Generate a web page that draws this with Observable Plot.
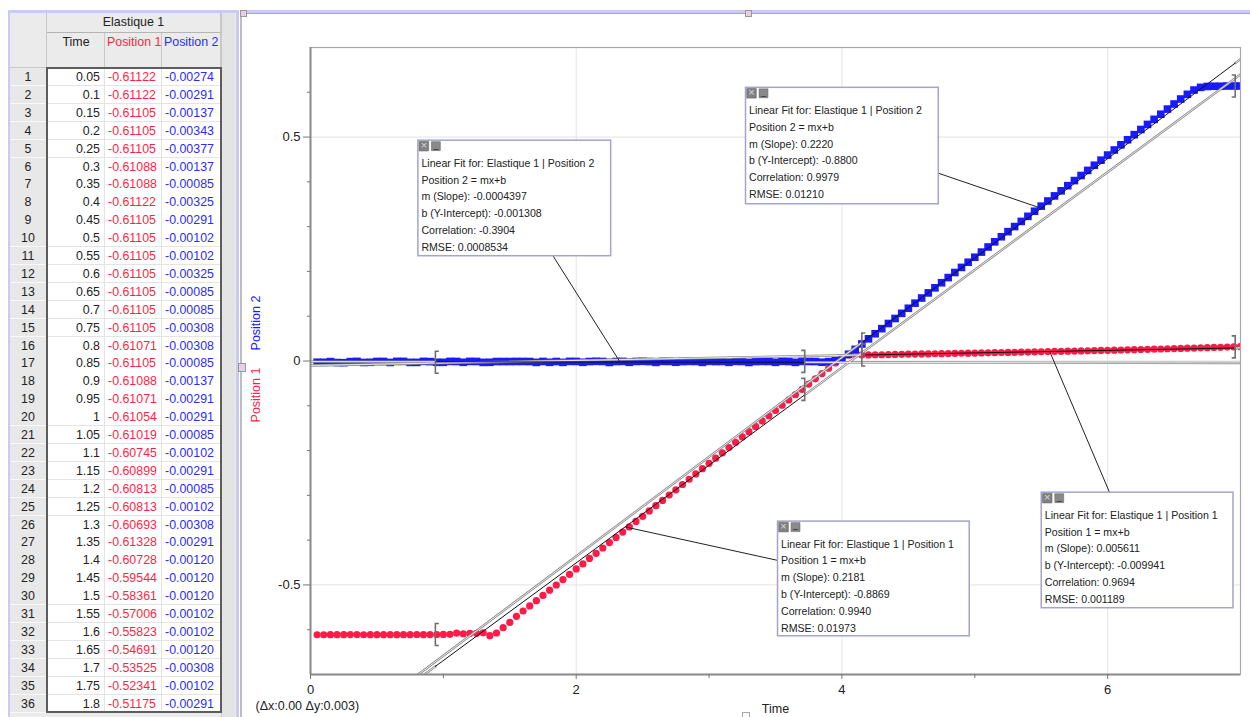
<!DOCTYPE html>
<html><head><meta charset="utf-8">
<script src="https://cdn.jsdelivr.net/npm/d3@7"></script>
<script src="https://cdn.jsdelivr.net/npm/@observablehq/plot@0.6"></script>
<style>
html,body{margin:0;padding:0;background:#fff;}
#page{position:relative;width:1250px;height:717px;overflow:hidden;background:#fff;font-family:"Liberation Sans",Arial,Helvetica,sans-serif;}
#page div{position:absolute;box-sizing:border-box;overflow:hidden;white-space:nowrap;}
#page svg{position:absolute;}
</style></head><body><div id="page"></div>
<script>
// ---------- data ----------
const datasetName = "Elastique 1";
const columnNames = ["Time", "Position 1", "Position 2"];
const time = [
0.05,0.1,0.15,0.2,0.25,0.3,0.35,0.4,0.45,0.5,
0.55,0.6,0.65,0.7,0.75,0.8,0.85,0.9,0.95,1,
1.05,1.1,1.15,1.2,1.25,1.3,1.35,1.4,1.45,1.5,
1.55,1.6,1.65,1.7,1.75,1.8,1.85,1.9,1.95,2,
2.05,2.1,2.15,2.2,2.25,2.3,2.35,2.4,2.45,2.5,
2.55,2.6,2.65,2.7,2.75,2.8,2.85,2.9,2.95,3,
3.05,3.1,3.15,3.2,3.25,3.3,3.35,3.4,3.45,3.5,
3.55,3.6,3.65,3.7,3.75,3.8,3.85,3.9,3.95,4,
4.05,4.1,4.15,4.2,4.25,4.3,4.35,4.4,4.45,4.5,
4.55,4.6,4.65,4.7,4.75,4.8,4.85,4.9,4.95,5,
5.05,5.1,5.15,5.2,5.25,5.3,5.35,5.4,5.45,5.5,
5.55,5.6,5.65,5.7,5.75,5.8,5.85,5.9,5.95,6,
6.05,6.1,6.15,6.2,6.25,6.3,6.35,6.4,6.45,6.5,
6.55,6.6,6.65,6.7,6.75,6.8,6.85,6.9,6.95,7];
const position1 = [
-0.61122,-0.61122,-0.61105,-0.61105,-0.61105,-0.610884,-0.610884,-0.61122,-0.61105,-0.61105,
-0.61105,-0.61105,-0.61105,-0.61105,-0.61105,-0.61071,-0.61105,-0.610884,-0.61071,-0.610541,
-0.61019,-0.607455,-0.608993,-0.608138,-0.608138,-0.606938,-0.613281,-0.607283,-0.595441,-0.583613,
-0.570063,-0.558232,-0.546915,-0.535255,-0.523413,-0.51175,-0.50012,-0.48811,-0.47663,-0.46432,
-0.45301,-0.44089,-0.42937,-0.41755,-0.40546,-0.39401,-0.38193,-0.37039,-0.35822,-0.34677,
-0.33469,-0.32294,-0.31128,-0.29929,-0.28772,-0.27574,-0.26408,-0.25216,-0.24045,-0.22856,
-0.21689,-0.20499,-0.19323,-0.18138,-0.16961,-0.15779,-0.14603,-0.13419,-0.12243,-0.11059,
-0.09882,-0.08699,-0.07523,-0.06341,-0.05163,-0.03981,-0.02803,-0.01622,-0.00446,0.00602,
0.01297,0.01503,0.01350,0.01367,0.01401,0.01401,0.01435,0.01469,0.01486,0.01520,
0.01537,0.01571,0.01588,0.01623,0.01640,0.01674,0.01691,0.01725,0.01742,0.01777,
0.01811,0.01828,0.01862,0.01896,0.01913,0.01948,0.01982,0.01999,0.02033,0.02067,
0.02101,0.02136,0.02153,0.02187,0.02221,0.02255,0.02289,0.02324,0.02358,0.02392,
0.02426,0.02460,0.02495,0.02529,0.02563,0.02597,0.02648,0.02683,0.02734,0.02768,
0.02802,0.02854,0.02888,0.02939,0.02973,0.03025,0.03059,0.03110,0.03144,0.03196];
const position2 = [
-0.002741,-0.002912,-0.001371,-0.003432,-0.003774,-0.001371,-0.000856,-0.003254,-0.002912,-0.001027,
-0.001027,-0.003254,-0.000856,-0.000856,-0.003083,-0.003083,-0.000856,-0.001371,-0.002912,-0.002912,
-0.000856,-0.001027,-0.002912,-0.000856,-0.001027,-0.003083,-0.002912,-0.0012,-0.0012,-0.0012,
-0.001027,-0.001027,-0.0012,-0.003083,-0.001027,-0.002912,-0.0012,-0.003083,-0.000856,-0.001027,
-0.002912,-0.0012,-0.000685,-0.001027,-0.003254,-0.0012,-0.000856,-0.002912,-0.001027,-0.000685,
-0.0012,-0.003083,-0.000856,-0.001027,-0.002741,-0.0012,-0.000856,-0.001027,-0.003083,-0.000685,
-0.0012,-0.001027,-0.002912,-0.000856,-0.001027,-0.003254,-0.0012,-0.000856,-0.001027,-0.002912,
-0.000685,-0.0012,-0.003083,-0.000856,-0.001027,-0.0012,-0.002741,-0.001371,0.000514,0.006,
0.015,0.026,0.038,0.0495,0.06085,0.07221,0.08373,0.09492,0.10644,0.11779,
0.12915,0.14067,0.15203,0.16338,0.17474,0.18626,0.19761,0.20897,0.22049,0.23168,
0.2432,0.25456,0.26608,0.27744,0.28879,0.30015,0.31167,0.32302,0.33438,0.34574,
0.35726,0.36861,0.37997,0.39149,0.40285,0.4142,0.42556,0.43708,0.44843,0.45979,
0.47115,0.48267,0.49402,0.50538,0.5169,0.52826,0.53961,0.55097,0.56249,0.57384,
0.58497,0.59546,0.60502,0.611,0.613,0.6135,0.6135,0.614,0.614,0.614];
const tableRows = 36;

// linear fits (as reported in the reference)
const fitSeries = ["Position 2", "Position 2", "Position 1", "Position 1"];
const fitSlope = [-0.0004397, 0.2220, 0.2181, 0.005611];
const fitIntercept = [-0.001308, -0.8800, -0.8869, -0.009941];
const fitSlopeText = ["-0.0004397", "0.2220", "0.2181", "0.005611"];
const fitInterceptText = ["-0.001308", "-0.8800", "-0.8869", "-0.009941"];
const fitCorrelation = ["-0.3904", "0.9979", "0.9940", "0.9694"];
const fitRMSE = ["0.0008534", "0.01210", "0.01973", "0.001189"];
const fitStart = [0.94, 4.15, 0.94, 4.15];
const fitEnd = [3.72, 6.96, 3.72, 6.96];

// axis ticks
const xTickLabels = [0, 2, 4, 6];
const xMinorTicks = [1, 3, 5];
const yTickLabels = [-0.5, 0, 0.5];
const yMinorTicks = [-0.6, -0.4, -0.3, -0.2, -0.1, 0.1, 0.2, 0.3, 0.4, 0.6];

// annotation placement (data units of the graph)
const layout = {
  boxLeft: [0.812, 3.278, 3.519, 5.504],
  boxRight: [2.263, 4.729, 4.962, 6.947],
  boxTop: [0.492, 0.610, -0.3586, -0.294],
  boxBottom: [0.234, 0.350, -0.6147, -0.552],
  leaderFromX: [1.827, 4.729, 3.519, 6.015],
  leaderFromY: [0.234, 0.419, -0.4454, -0.294],
  leaderToX: [2.33, 5.50, 2.368, 5.564]
};

const RED = "#ff1a47", BLUE = "#1a1aff";
const page = document.getElementById("page");
function div(l, t, w, h, css, text) {
  const d = document.createElement("div");
  d.style.cssText = `left:${l}px;top:${t}px;width:${w}px;height:${h}px;${css || ""}`;
  if (text != null) d.textContent = text;
  page.appendChild(d);
  return d;
}

// ---------- data table ----------
const FS = "font-size:12.4px;";
const cellText = (v, j) => (j === 0 ? String(v) : v.toFixed(6).slice(0, 8));
div(8, 10, 231, 710, "border-left:2px solid #cacaf2;border-top:3px solid #cacaf2;border-right:3px solid #cacaf2;background:#ebebeb");
div(10, 13, 37, 55, "background:#ebebeb;border-right:1px solid #c8c8c8;border-bottom:1px solid #c8c8c8");
div(47, 13, 174, 20, FS + "color:#222;background:#ebebeb;border-right:1px solid #c8c8c8;border-bottom:1px solid #b4b4b4;text-align:center;line-height:19px", datasetName);
const colX = [47, 105, 162], colW = [58, 57, 59];
const textX = [47, 108, 165], textW = [53, 53, 54];
const colColor = ["#222", "#ff1f45", "#2b2bff"];
columnNames.forEach((c, j) => {
  div(colX[j], 33, colW[j], 35, "background:#ebebeb;border-right:1px solid #c8c8c8;border-bottom:1px solid #c8c8c8");
  div(j === 0 ? colX[j] : colX[j] + 2, 33, j === 0 ? colW[j] : colW[j] - 1, 20, FS + `color:${colColor[j]};line-height:18px;` + (j === 0 ? "text-align:center" : ""), c);
});
div(221, 13, 14, 704, "background:#e4e4e4;border-left:1px solid #c8c8c8");
const RH = 17.9;
for (let i = 0; i < tableRows; i++) {
  const y = 68 + i * RH;
  div(10, y, 37, RH + 0.5, FS + "color:#222;background:#e8e8e8;border-bottom:1px solid #f8f8f8;border-right:1px solid #cfcfcf;text-align:center;line-height:18px", String(i + 1));
  const vals = [time[i], position1[i], position2[i]];
  vals.forEach((v, j) => {
    div(colX[j], y, colW[j], RH + 0.5, "background:#fff;border-right:1px solid #e4e4e4;border-bottom:1px solid #e4e4e4");
    div(textX[j], y, textW[j], RH, FS + `color:${colColor[j]};line-height:18px;` + (j === 0 ? "text-align:right" : ""), cellText(v, j));
  });
}
div(46, 67, 176, 646, "border:2px solid #5c5c5c;background:transparent");

// ---------- graph pane chrome ----------
div(240, 10, 1010, 3, "background:#cacaf2");
div(240, 13, 1010, 1, "background:#a8a8a8");
div(240, 13, 2, 704, "background:#bdbdbd");

// ---------- chart ----------
const pts = time.map((t, i) => ({t, p1: position1[i], p2: position2[i]}));
const fits = fitSeries.map((s, i) => ({
  series: s, m: fitSlope[i], b: fitIntercept[i], from: fitStart[i], to: fitEnd[i],
  text: [`Linear Fit for: ${datasetName} | ${s}`, `${s} = mx+b`, `m (Slope): ${fitSlopeText[i]}`,
         `b (Y-Intercept): ${fitInterceptText[i]}`, `Correlation: ${fitCorrelation[i]}`, `RMSE: ${fitRMSE[i]}`].join("\n"),
  bx1: layout.boxLeft[i], bx2: layout.boxRight[i], byt: layout.boxTop[i], byb: layout.boxBottom[i],
  lx1: layout.leaderFromX[i], ly1: layout.leaderFromY[i], lx2: layout.leaderToX[i],
  ly2: fitSlope[i] * layout.leaderToX[i] + fitIntercept[i]
}));
const key = s => (s === "Position 1" ? "p1" : "p2");
const nearest = (x, s) => pts[d3.minIndex(pts, d => Math.abs(d.t - x))][key(s)];
// parts of each fit line outside its fitted range (drawn grey) and inside it (drawn black)
const outerLines = fits.flatMap((f, i) => [
  ...[0, f.from].map(x => ({id: i * 2, x, y: f.m * x + f.b})),
  ...[f.to, 7].map(x => ({id: i * 2 + 1, x, y: f.m * x + f.b}))
]);
const segLines = fits.flatMap((f, i) => [f.from, f.to].map(x => ({id: i, x, y: f.m * x + f.b})));
const openBr = fits.map(f => ({x: f.from, y: nearest(f.from, f.series)}));
const closeBr = fits.map(f => ({x: f.to, y: nearest(f.to, f.series)}));
// range bracket symbols
const bracket = dir => ({draw(ctx) {
  ctx.moveTo(3.5 * dir, -11); ctx.lineTo(0, -11); ctx.lineTo(0, 11); ctx.lineTo(3.5 * dir, 11);
}});

const chart = Plot.plot({
  width: 1008, height: 703,
  marginLeft: 68, marginRight: 10, marginTop: 33, marginBottom: 43,
  x: {domain: [0, 7]},
  y: {domain: [-0.7, 0.7]},
  style: {fontFamily: "Liberation Sans, Arial, sans-serif", fontSize: "13px", color: "#222", background: "transparent", overflow: "visible"},
  marks: [
    Plot.gridX(xTickLabels.slice(1), {stroke: "#e3e3e3", strokeOpacity: 1}),
    Plot.gridY(yTickLabels, {stroke: "#e3e3e3", strokeOpacity: 1}),
    Plot.dot(pts, {x: "t", y: "p1", r: 3.6, fill: RED, clip: true}),
    Plot.dot(pts, {x: "t", y: "p2", symbol: "square", r: 4.3, fill: BLUE, clip: true}),
    Plot.line(outerLines, {x: "x", y: "y", z: "id", stroke: "#8a8a8a", strokeWidth: 2.4, clip: true}),
    Plot.line(outerLines, {x: "x", y: "y", z: "id", stroke: "#ffffff", strokeWidth: 0.8, clip: true}),
    Plot.line(segLines, {x: "x", y: "y", z: "id", stroke: "#111", strokeWidth: 1, clip: true}),
    Plot.dot(openBr, {x: "x", y: "y", symbol: bracket(1), r: 11, fill: "none", stroke: "#707070", strokeWidth: 1.6}),
    Plot.dot(closeBr, {x: "x", y: "y", symbol: bracket(-1), r: 11, fill: "none", stroke: "#707070", strokeWidth: 1.6}),
    Plot.link(fits, {x1: "lx1", y1: "ly1", x2: "lx2", y2: "ly2", stroke: "#222", strokeWidth: 1}),
    Plot.rect(fits, {x1: "bx1", x2: "bx2", y1: "byb", y2: "byt", fill: "#fff", stroke: "#a4a4cc", strokeWidth: 1.5}),
    Plot.dot(fits, {x: "bx1", y: "byt", symbol: "square", r: 5.4, fill: "#808080", stroke: "#666", strokeWidth: 0.6, dx: 5.5, dy: 5.5}),
    Plot.dot(fits, {x: "bx1", y: "byt", symbol: "square", r: 5.0, fill: "#8a8a8a", stroke: "#666", strokeWidth: 0.6, dx: 17.5, dy: 5.5}),
    Plot.text(fits, {x: "bx1", y: "byt", text: () => "×", dx: 5.5, dy: 5, fontSize: 11, fill: "#d8d8d8"}),
    Plot.text(fits, {x: "bx1", y: "byt", text: () => "_", dx: 17.5, dy: 4, fontSize: 9, fill: "#222"}),
    Plot.text(fits, {x: "bx1", y: "byt", text: "text", textAnchor: "start", lineAnchor: "top", dx: 3, dy: 14, fontSize: 10.6, lineHeight: 1.594, fill: "#222"}),
    Plot.frame({stroke: "#a8a8a8", strokeWidth: 1.2}),
    Plot.ruleX([0], {stroke: "#8c8c8c", strokeWidth: 2}),
    Plot.ruleY([-0.7], {stroke: "#8c8c8c", strokeWidth: 2}),
    Plot.axisX(xTickLabels, {tickSize: 5, tickPadding: 5, label: null, tickFormat: d => String(d), stroke: "#777", fill: "#222", fontSize: 13}),
    Plot.axisX(xMinorTicks, {tickSize: 4, tickFormat: () => "", label: null, stroke: "#777"}),
    Plot.axisY(yTickLabels, {tickSize: 7, tickPadding: 3, label: null, tickFormat: d => String(d), stroke: "#777", fill: "#222", fontSize: 13}),
    Plot.axisY(yMinorTicks, {tickSize: 3, tickFormat: () => "", label: null, stroke: "#777"}),
    Plot.text([columnNames[0]], {frameAnchor: "bottom", textAnchor: "middle", lineAnchor: "middle", dy: 34, fontSize: 12.5, fill: "#222"}),
    Plot.text(["(Δx:0.00 Δy:0.003)"], {frameAnchor: "bottom-left", textAnchor: "start", lineAnchor: "middle", dx: -55, dy: 31, fontSize: 12.5, fill: "#222"}),
    Plot.text([columnNames[2]], {frameAnchor: "left", textAnchor: "middle", lineAnchor: "middle", rotate: -90, dx: -55, dy: -38, fontSize: 12.5, fill: BLUE}),
    Plot.text([columnNames[1]], {frameAnchor: "left", textAnchor: "middle", lineAnchor: "middle", rotate: -90, dx: -55, dy: 34, fontSize: 12.5, fill: "#ff1f45"})
  ]
});
chart.style.left = "242px";
chart.style.top = "14px";
page.appendChild(chart);

// handles
const H = "background:#e6cfe6;border:1px solid #999";
div(240, 10, 7, 7, H);
div(745, 10, 7, 7, H);
div(238, 363, 8, 9, H);
div(742, 712, 8, 6, "background:#fff;border:1px solid #aaa");
</script>
</body></html>
